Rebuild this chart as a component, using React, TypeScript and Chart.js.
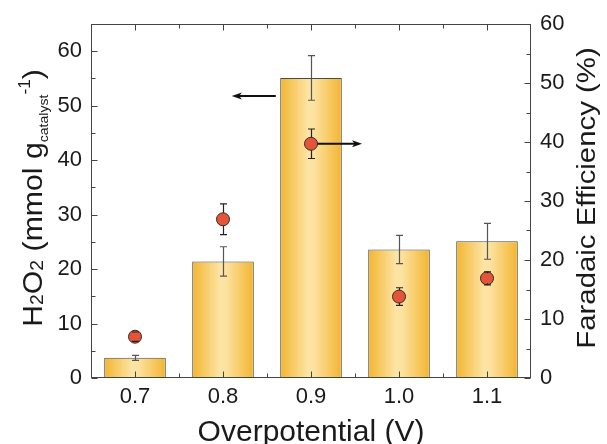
import React, { useEffect, useRef } from 'react';
import { Chart, registerables } from 'chart.js';

Chart.register(...registerables);

// ---- data ----
const categories = ['0.7', '0.8', '0.9', '1.0', '1.1'];
const h2o2Values = [3.7, 21.4, 55.1, 23.6, 25.1];
const h2o2Errors = [0.45, 2.7, 4.1, 2.6, 3.3];
const feValues = [7.0, 26.9, 39.7, 13.8, 16.9];
const feErrors = [0.8, 2.6, 2.5, 1.5, 1.1];
const leftTicks = [0, 10, 20, 30, 40, 50, 60];
const rightTicks = [0, 10, 20, 30, 40, 50, 60];
const leftMinorTicks = [5, 15, 25, 35, 45, 55];
const rightMinorTicks = [5, 15, 25, 35, 45, 55];
const leftMax = 65;
const rightMax = 60;
const xTitle = 'Overpotential (V)';
const rightTitle = 'Faradaic Efficiency (%)';
const leftTitleText = ['H', '2', 'O', '2', ' (mmol g', 'catalyst', '-1', ')'];
const leftArrow = { value: 51.8, from: 1.6, to: 1.1 };
const rightArrow = { pointIndex: 2, to: 2.58 };

const FONT = '"Liberation Sans", Arial, Helvetica, sans-serif';
const TEXT = '#1a1a1a';
const AXIS = '#444444';
const POINT_R = 6.5;

type Part = { t: string; s: number; dy: number };

function drawParts(ctx: CanvasRenderingContext2D, parts: Part[], stretch: number) {
  let total = 0;
  const widths = parts.map((p) => {
    ctx.font = `${p.s}px ${FONT}`;
    const w = ctx.measureText(p.t).width;
    total += w;
    return w;
  });
  ctx.scale(stretch, 1);
  let x = -total / 2;
  parts.forEach((p, i) => {
    ctx.font = `${p.s}px ${FONT}`;
    ctx.fillText(p.t, x, p.dy);
    x += widths[i];
  });
}

function arrow(ctx: CanvasRenderingContext2D, x1: number, y: number, x2: number) {
  const dir = x2 > x1 ? 1 : -1;
  const headLen = 10;
  ctx.beginPath();
  ctx.moveTo(x1, y);
  ctx.lineTo(x2 - dir * headLen * 0.6, y);
  ctx.stroke();
  ctx.beginPath();
  ctx.moveTo(x2, y);
  ctx.lineTo(x2 - dir * headLen, y - 3.5);
  ctx.lineTo(x2 - dir * headLen * 0.75, y);
  ctx.lineTo(x2 - dir * headLen, y + 3.5);
  ctx.closePath();
  ctx.fill();
}

const decorPlugin = {
  id: 'decor',
  afterDatasetsDraw(chart: any) {
    const ctx: CanvasRenderingContext2D = chart.ctx;
    const xs = chart.scales.x;
    const yl = chart.scales.y;
    const yr = chart.scales.y1;
    const area = chart.chartArea;
    ctx.save();

    // frame
    ctx.strokeStyle = AXIS;
    ctx.lineWidth = 1;
    ctx.strokeRect(
      Math.round(area.left) + 0.5,
      Math.round(area.top) + 0.5,
      Math.round(area.right - area.left) - 1,
      Math.round(area.bottom - area.top) - 1
    );

    // inward ticks
    ctx.beginPath();
    const L = Math.round(area.left) + 0.5;
    const R = Math.round(area.right) - 0.5;
    const T = Math.round(area.top) + 0.5;
    const B = Math.round(area.bottom) - 0.5;
    leftTicks.forEach((v) => {
      const y = Math.round(yl.getPixelForValue(v)) + 0.5;
      ctx.moveTo(L, y); ctx.lineTo(L + 6, y);
    });
    leftMinorTicks.forEach((v) => {
      const y = Math.round(yl.getPixelForValue(v)) + 0.5;
      ctx.moveTo(L, y); ctx.lineTo(L + 4, y);
    });
    rightTicks.forEach((v) => {
      const y = Math.round(yr.getPixelForValue(v)) + 0.5;
      ctx.moveTo(R, y); ctx.lineTo(R - 6, y);
    });
    rightMinorTicks.forEach((v) => {
      const y = Math.round(yr.getPixelForValue(v)) + 0.5;
      ctx.moveTo(R, y); ctx.lineTo(R - 4, y);
    });
    categories.forEach((_, i) => {
      const x = Math.round(xs.getPixelForValue(i)) + 0.5;
      ctx.moveTo(x, B); ctx.lineTo(x, B - 6);
      ctx.moveTo(x, T); ctx.lineTo(x, T + 6);
      if (i > 0) {
        const xm = Math.round(xs.getPixelForValue(i - 0.5)) + 0.5;
        ctx.moveTo(xm, B); ctx.lineTo(xm, B - 4);
        ctx.moveTo(xm, T); ctx.lineTo(xm, T + 4);
      }
    });
    ctx.stroke();

    // bar error bars
    const cap = 3.5;
    ctx.strokeStyle = '#555555';
    ctx.lineWidth = 1.2;
    ctx.beginPath();
    h2o2Values.forEach((v, i) => {
      const x = Math.round(xs.getPixelForValue(i)) + 0.5;
      const y1 = yl.getPixelForValue(v + h2o2Errors[i]);
      const y2 = yl.getPixelForValue(v - h2o2Errors[i]);
      ctx.moveTo(x, y1); ctx.lineTo(x, y2);
      ctx.moveTo(x - cap, y1); ctx.lineTo(x + cap, y1);
      ctx.moveTo(x - cap, y2); ctx.lineTo(x + cap, y2);
    });
    ctx.stroke();

    // point error bars (line skips the symbol, caps always drawn)
    ctx.strokeStyle = '#222222';
    ctx.beginPath();
    feValues.forEach((v, i) => {
      const x = Math.round(xs.getPixelForValue(i)) + 0.5;
      const yc = yr.getPixelForValue(v);
      const y1 = yr.getPixelForValue(v + feErrors[i]);
      const y2 = yr.getPixelForValue(v - feErrors[i]);
      if (y1 < yc - POINT_R) { ctx.moveTo(x, y1); ctx.lineTo(x, yc - POINT_R); }
      else { ctx.moveTo(x, y1); ctx.lineTo(x, yc - POINT_R + 1.5); }
      if (y2 > yc + POINT_R) { ctx.moveTo(x, yc + POINT_R); ctx.lineTo(x, y2); }
      else { ctx.moveTo(x, yc + POINT_R - 1.5); ctx.lineTo(x, y2); }
      ctx.moveTo(x - cap, y1); ctx.lineTo(x + cap, y1);
      ctx.moveTo(x - cap, y2); ctx.lineTo(x + cap, y2);
    });
    ctx.stroke();

    // arrows
    ctx.strokeStyle = '#111111';
    ctx.fillStyle = '#111111';
    ctx.lineWidth = 2;
    arrow(ctx, xs.getPixelForValue(leftArrow.from), yl.getPixelForValue(leftArrow.value), xs.getPixelForValue(leftArrow.to));
    const pi = rightArrow.pointIndex;
    arrow(ctx, xs.getPixelForValue(pi) + POINT_R, yr.getPixelForValue(feValues[pi]), xs.getPixelForValue(rightArrow.to));

    ctx.restore();
  },
  afterDraw(chart: any) {
    const ctx: CanvasRenderingContext2D = chart.ctx;
    const area = chart.chartArea;
    const cy = (area.top + area.bottom) / 2 - 3;
    ctx.save();
    ctx.fillStyle = TEXT;
    ctx.textBaseline = 'alphabetic';
    ctx.textAlign = 'left';

    // x title
    ctx.save();
    ctx.translate((area.left + area.right) / 2, 441);
    drawParts(ctx, [{ t: xTitle, s: 30, dy: 0 }], 1);
    ctx.restore();

    // left title
    const sizes = [28, 18, 28, 18, 28, 13, 16, 28];
    const dys = [0, 1, 0, 1, 0, 6, -12, 0];
    ctx.save();
    ctx.translate(42, cy);
    ctx.rotate(-Math.PI / 2);
    drawParts(ctx, leftTitleText.map((t, i) => ({ t, s: sizes[i], dy: dys[i] })), 1.08);
    ctx.restore();

    // right title
    ctx.save();
    ctx.translate(595, cy);
    ctx.rotate(-Math.PI / 2);
    drawParts(ctx, [{ t: rightTitle, s: 26, dy: 0 }], 1.13);
    ctx.restore();

    ctx.restore();
  },
};

export default function App() {
  const ref = useRef<HTMLCanvasElement | null>(null);

  useEffect(() => {
    const canvas = ref.current;
    if (!canvas) return;

    const barGradient = (c: any) => {
      const chart = c.chart;
      const xs = chart.scales && chart.scales.x;
      if (!xs || c.dataIndex === undefined || !xs.width) return '#F6C45A';
      const center = xs.getPixelForValue(c.dataIndex);
      const half = (xs.width / categories.length) * 0.7 / 2;
      const g = chart.ctx.createLinearGradient(center - half, 0, center + half, 0);
      g.addColorStop(0, '#F3B530');
      g.addColorStop(0.45, '#FCE4A4');
      g.addColorStop(0.55, '#FCE2A0');
      g.addColorStop(1, '#F3B530');
      return g;
    };

    const tickFont = { family: FONT, size: 22 };

    const chart = new Chart(canvas, {
      data: {
        labels: categories,
        datasets: [
          {
            type: 'line',
            label: 'Faradaic Efficiency',
            data: feValues,
            yAxisID: 'y1',
            showLine: false,
            pointRadius: POINT_R,
            pointHoverRadius: POINT_R,
            pointBackgroundColor: '#E3543A',
            pointBorderColor: '#3b2a22',
            pointBorderWidth: 1,
            order: 0,
          } as any,
          {
            type: 'bar',
            label: 'H2O2',
            data: h2o2Values,
            yAxisID: 'y',
            backgroundColor: barGradient,
            borderColor: '#4a4a4a',
            borderWidth: 1,
            borderSkipped: false,
            barPercentage: 0.7,
            categoryPercentage: 1,
            order: 1,
          } as any,
        ],
      },
      options: {
        responsive: false,
        animation: false,
        layout: { padding: { top: 24, left: 0, right: 0, bottom: 0 } },
        plugins: { legend: { display: false }, tooltip: { enabled: false } },
        events: [],
        scales: {
          x: {
            type: 'category',
            offset: true,
            grid: { display: false, drawTicks: false },
            border: { display: false },
            ticks: { font: tickFont, color: TEXT, padding: 6, maxRotation: 0 },
            afterFit: (s: any) => { s.height = 66; },
          },
          y: {
            type: 'linear',
            position: 'left',
            min: 0,
            max: leftMax,
            grid: { display: false, drawTicks: false },
            border: { display: false },
            ticks: { font: tickFont, color: TEXT, padding: 9 },
            afterBuildTicks: (s: any) => { s.ticks = leftTicks.map((v) => ({ value: v })); },
            afterFit: (s: any) => { s.width = 91; },
          },
          y1: {
            type: 'linear',
            position: 'right',
            min: 0,
            max: rightMax,
            grid: { display: false, drawTicks: false },
            border: { display: false },
            ticks: { font: tickFont, color: TEXT, padding: 9 },
            afterBuildTicks: (s: any) => { s.ticks = rightTicks.map((v) => ({ value: v })); },
            afterFit: (s: any) => { s.width = 76; },
          },
        },
      } as any,
      plugins: [decorPlugin],
    });

    return () => chart.destroy();
  }, []);

  return (
    <div style={{ position: 'absolute', left: 0, top: 0, width: 607, height: 444, background: '#ffffff' }}>
      <canvas ref={ref} width={607} height={444} style={{ display: 'block' }} />
    </div>
  );
}
